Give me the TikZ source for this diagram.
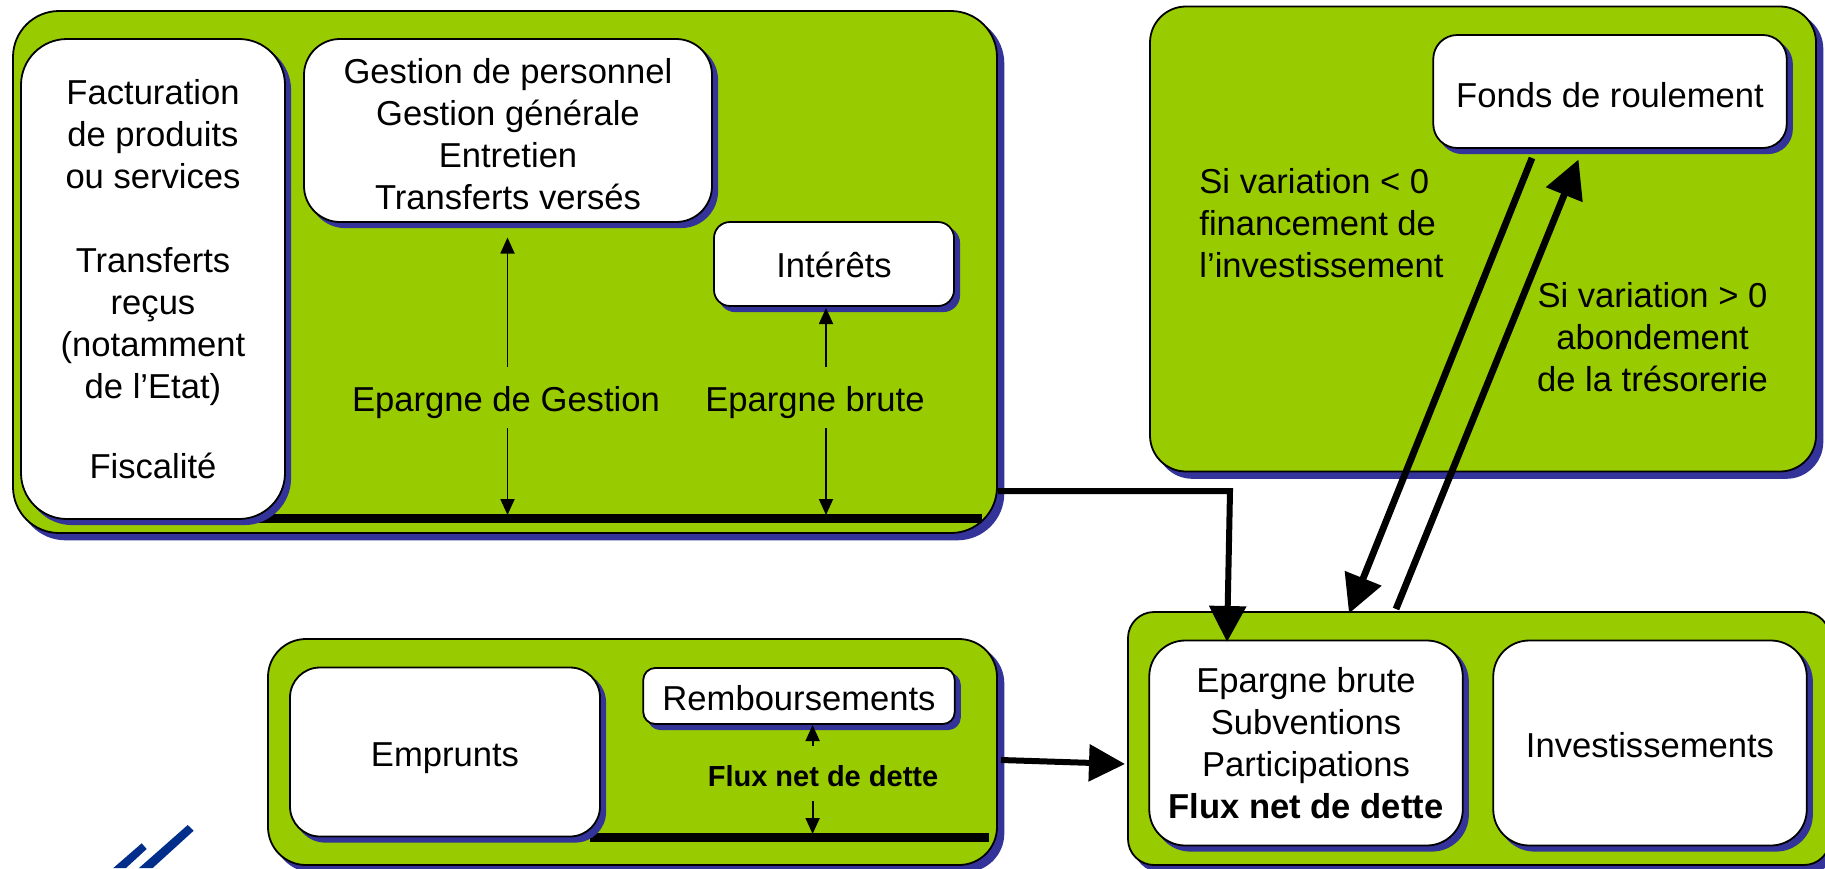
\documentclass[tikz,border=0pt]{standalone}
\usepackage{fontspec}
\setmainfont{Liberation Sans}
\usetikzlibrary{shadows,arrows.meta}
\definecolor{panel}{HTML}{99CC00}
\definecolor{shade}{HTML}{333399}
\definecolor{logoblue}{HTML}{002E8A}
\tikzset{
  x=0.5pt,y=-0.5pt,
  box/.style={draw=black,line width=0.9pt,rectangle,inner sep=0pt,align=center,
    font=\fontsize{17.3}{21}\selectfont},
  panelbox/.style={box,fill=panel,
    copy shadow={shadow xshift=3.2pt,shadow yshift=-3.2pt,fill=shade,draw=shade}},
  whitebox/.style={box,fill=white,
    copy shadow={shadow xshift=2.6pt,shadow yshift=-2.6pt,fill=shade,draw=shade}},
  txt/.style={align=center,inner sep=0pt,font=\fontsize{17.3}{21}\selectfont},
  smalltxt/.style={align=center,inner sep=0pt,font=\bfseries\fontsize{14.5}{18}\selectfont},
  rulebar/.style={line width=4.4pt,black},
  thin arrow/.style={line width=0.9pt,-{Triangle[length=8pt,width=7pt]}},
  heavy arrow/.style={line width=3pt,-{Triangle[length=18pt,width=18pt]}},
  heavy diag/.style={line width=3.4pt,-{Triangle[length=19pt,width=19pt]}},
}
\begin{document}
\begin{tikzpicture}
\path[use as bounding box,clip] (0,0) rectangle (1825,868);
% panels
\node[panelbox,minimum width=492pt,minimum height=261pt,rounded corners=23pt] (fonct) at (505,272) {};
\node[panelbox,minimum width=333pt,minimum height=232.5pt,rounded corners=18pt] (fdr) at (1483,239) {};
\node[panelbox,minimum width=364.5pt,minimum height=113pt,rounded corners=19pt] (dette) at (632.5,752) {};
\node[panelbox,minimum width=351pt,minimum height=126.5pt,rounded corners=13pt] (invest) at (1479,738.5) {};
% baselines
\coordinate (r1a) at (250,518.5); \coordinate (r1b) at (982,518.5);
\coordinate (r2a) at (590,837.5); \coordinate (r2b) at (989,837.5);
\draw[rulebar] (r1a) -- (r1b);
\draw[rulebar] (r2a) -- (r2b);
% white boxes
\node[whitebox,minimum width=132pt,minimum height=240pt,rounded corners=23pt] (rec) at (153,279)
  {Facturation\\de produits\\ou services\\\mbox{}\\Transferts\\reçus\\(notamment\\de l’Etat)\\[19pt]Fiscalité};
\node[whitebox,minimum width=204pt,minimum height=91.5pt,rounded corners=18pt,
  label={[txt,yshift=-1.75pt]center:{Gestion de personnel\\Gestion générale\\Entretien\\Transferts versés}}] (dep) at (508,130.5) {};
\node[whitebox,minimum width=120pt,minimum height=42pt,rounded corners=8pt,
  label={[txt,yshift=-0.6pt]center:Intérêts}] (int) at (834,264) {};
\node[whitebox,minimum width=176.75pt,minimum height=56.5pt,rounded corners=12pt,
  label={[txt,yshift=-1.75pt]center:Fonds de roulement}] (fonds) at (1610,91.5) {};
\node[whitebox,minimum width=155pt,minimum height=84.5pt,rounded corners=15pt,
  label={[txt,yshift=-2.9pt]center:Emprunts}] (empr) at (445,752) {};
\node[whitebox,minimum width=155.75pt,minimum height=28pt,rounded corners=6pt,
  label={[txt,yshift=-1.2pt]center:Remboursements}] (remb) at (799,696) {};
\node[whitebox,minimum width=156.75pt,minimum height=102.5pt,rounded corners=18pt,
  label={[txt,yshift=-0.3pt]center:{Epargne brute\\Subventions\\Participations\\\textbf{Flux net de dette}}}] (sources) at (1306,743) {};
\node[whitebox,minimum width=156.75pt,minimum height=102.5pt,rounded corners=18pt,
  label={[txt,yshift=-1.2pt]center:Investissements}] (inv) at (1650,743) {};
% labels
\node[txt] (eg) at (506,402.5) {Epargne de Gestion};
\node[txt] (eb) at (815,402.5) {Epargne brute};
\node[smalltxt] (fn) at (823,776) {Flux net de dette};
\node[txt,align=left,anchor=west] (neg) at (1199,223) {Si variation < 0\\financement de\\l’investissement};
\node[txt] (pos) at (1652.5,337) {Si variation > 0\\abondement\\de la trésorerie};
% thin arrows
\coordinate (a1) at (507.5,367); \coordinate (a2) at (507.5,237.5);
\coordinate (a3) at (507.5,428); \coordinate (a4) at (507.5,515);
\coordinate (b1) at (826,367);   \coordinate (b2) at (826,308);
\coordinate (b3) at (826,428);   \coordinate (b4) at (826,515);
\coordinate (c1) at (812.6,746); \coordinate (c2) at (812.6,725);
\coordinate (c3) at (812.6,801); \coordinate (c4) at (812.6,834);
\draw[thin arrow] (a1) -- (a2);
\draw[thin arrow] (a3) -- (a4);
\draw[thin arrow] (b1) -- (b2);
\draw[thin arrow] (b3) -- (b4);
\draw[thin arrow] (c1) -- (c2);
\draw[thin arrow] (c3) -- (c4);
% heavy arrows
\coordinate (e1) at (998,491); \coordinate (e2) at (1230,491); \coordinate (e3) at (1227,642);
\draw[heavy arrow,line join=miter] (e1) -- (e2) -- (e3);
\coordinate (f1) at (1001,760); \coordinate (f2) at (1125,764);
\draw[heavy arrow] (f1) -- (f2);
\coordinate (g1) at (1532,158); \coordinate (g2) at (1349,613.5);
\draw[heavy diag] (g1) -- (g2);
\coordinate (h1) at (1396,609); \coordinate (h2) at (1578.5,159.5);
\draw[heavy diag] (h1) -- (h2);
% logo fragment
\fill[logoblue] (187.7,825) -- (193.7,830.7) -- (152.7,868) -- (139,868) -- cycle;
\fill[logoblue] (141.7,843.3) -- (146.7,849) -- (126,868) -- (113.3,868) -- cycle;
\end{tikzpicture}
\end{document}
